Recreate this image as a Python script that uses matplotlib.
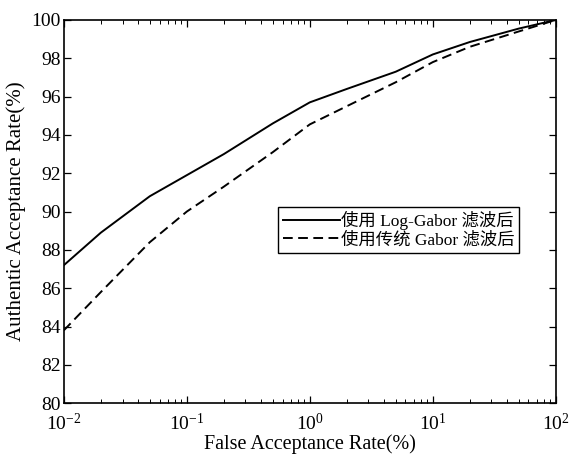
import matplotlib
matplotlib.use("Agg")
import matplotlib.pyplot as plt
from matplotlib.ticker import LogLocator, FixedLocator

plt.rcParams["font.family"] = ["Liberation Serif", "Noto Sans CJK SC"]
plt.rcParams["mathtext.fontset"] = "custom"
plt.rcParams["mathtext.rm"] = "Liberation Serif"
plt.rcParams["mathtext.it"] = "Liberation Serif:italic"

# FAR (%) vs authentic acceptance rate (%)
far = [0.01, 0.02, 0.05, 0.1, 0.2, 0.5, 1, 2, 5, 10, 20, 50, 100]
log_gabor = [87.2, 88.9, 90.8, 91.9, 93.0, 94.6, 95.7, 96.4, 97.3, 98.2, 98.85, 99.55, 100.0]
gabor = [83.8, 85.8, 88.4, 90.0, 91.3, 93.1, 94.55, 95.5, 96.75, 97.8, 98.6, 99.4, 100.0]
labels = ["使用 Log-Gabor 滤波后", "使用传统 Gabor 滤波后"]
yticks = list(range(80, 101, 2))

fig = plt.figure(figsize=(5.70, 4.54), dpi=100)
ax = fig.add_axes([0.112, 0.112, 0.863, 0.844])

ax.plot(far, log_gabor, "k-", linewidth=1.4, label=labels[0])
ax.plot(far, gabor, "k--", linewidth=1.4, dashes=(5, 2.8), label=labels[1])

ax.set_xscale("log")
ax.set_xlim(0.01, 100)
ax.set_ylim(80, 100)
ax.yaxis.set_major_locator(FixedLocator(yticks))
ax.xaxis.set_minor_locator(LogLocator(base=10, subs=range(2, 10)))

ax.tick_params(which="both", direction="in", top=True, right=True, labelsize=14)
ax.tick_params(axis="x", which="major", pad=7)
ax.tick_params(axis="y", which="major", pad=2)
ax.tick_params(which="major", length=5, width=0.9)
ax.tick_params(which="minor", length=3, width=0.7)
for s in ax.spines.values():
    s.set_linewidth(1.2)

ax.set_xlabel("False Acceptance Rate(%)", fontsize=14.5, labelpad=0)
ax.set_ylabel("Authentic Acceptance Rate(%)", fontsize=15, labelpad=4)

leg = ax.legend(loc="upper right", bbox_to_anchor=(0.925, 0.513), fontsize=12.5,
                frameon=True, fancybox=False, edgecolor="black", framealpha=1,
                handlelength=3.3, handletextpad=0.05, borderpad=0.25, labelspacing=0.1,
                borderaxespad=0)
leg.get_frame().set_linewidth(1.0)

fig.savefig("out.png", dpi=100)
